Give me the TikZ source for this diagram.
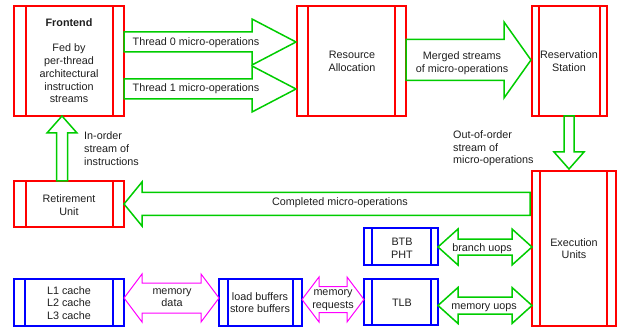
\documentclass[tikz,border=0pt]{standalone}
\usepackage{fontspec}
\setmainfont{Liberation Sans}
\definecolor{cred}{RGB}{255,0,0}
\definecolor{cgreen}{RGB}{0,204,0}
\definecolor{cblue}{RGB}{0,0,255}
\definecolor{cmag}{RGB}{255,0,255}
\definecolor{ctext}{RGB}{30,30,30}
\tikzset{
  redbox/.style={draw=cred,line width=2pt},
  bluebox/.style={draw=cblue,line width=2pt},
  garrow/.style={draw=cgreen,line width=1.5pt,line join=miter},
  marrow/.style={draw=cmag,line width=1pt,line join=miter},
  lbl/.style={text=ctext,font=\fontsize{10.8}{12.7}\selectfont,align=center,inner sep=0pt},
  lbll/.style={lbl,align=left,anchor=west},
}
% process box: style, x1,y1,x2,y2, inner x left, inner x right, name
\newcommand\procbox[8]{%
  \draw[#1] (#2,#3) rectangle (#4,#5);
  \draw[#1] (#6,#3) -- (#6,#5);
  \draw[#1] (#7,#3) -- (#7,#5);
  \coordinate (#8) at ({(#2+#4)/2},{(#3+#5)/2});
}
% right arrow: style, x1, x2, yc, shaft half, head half, head length
\newcommand\rarr[7]{%
  \draw[#1] (#2,{#4-#5}) -- ({#3-#7},{#4-#5}) -- ({#3-#7},{#4-#6}) -- (#3,#4)
    -- ({#3-#7},{#4+#6}) -- ({#3-#7},{#4+#5}) -- (#2,{#4+#5}) -- cycle;
}
% left arrow: style, tip x, tail x, yc, shaft half, head half, head length
\newcommand\larr[7]{%
  \draw[#1] (#3,{#4-#5}) -- ({#2+#7},{#4-#5}) -- ({#2+#7},{#4-#6}) -- (#2,#4)
    -- ({#2+#7},{#4+#6}) -- ({#2+#7},{#4+#5}) -- (#3,{#4+#5}) -- cycle;
}
% double arrow: style, x1, x2, yc, shaft half, head half, head length
\newcommand\darr[7]{%
  \draw[#1] (#2,#4) -- ({#2+#7},{#4-#6}) -- ({#2+#7},{#4-#5}) -- ({#3-#7},{#4-#5})
    -- ({#3-#7},{#4-#6}) -- (#3,#4) -- ({#3-#7},{#4+#6}) -- ({#3-#7},{#4+#5})
    -- ({#2+#7},{#4+#5}) -- ({#2+#7},{#4+#6}) -- cycle;
}
% vertical arrow: style, xc, tail y, tip y, shaft half, head half, head length (sign by direction)
\newcommand\varr[7]{%
  \draw[#1] ({#2-#5},#3) -- ({#2-#5},{#4-#7}) -- ({#2-#6},{#4-#7}) -- (#2,#4)
    -- ({#2+#6},{#4-#7}) -- ({#2+#5},{#4-#7}) -- ({#2+#5},#3) -- cycle;
}
\begin{document}
\begin{tikzpicture}[x=1pt,y=-1pt]
\useasboundingbox (0,0) rectangle (621,331);
% boxes
\procbox{redbox}{14}{6}{124}{116}{26}{113}{fe}
\procbox{redbox}{297}{6}{406}{116}{308}{395}{ra}
\procbox{redbox}{532}{6}{607}{116}{539}{600}{rs}
\procbox{redbox}{532}{171}{616}{326}{540}{607}{eu}
\procbox{redbox}{14}{181}{124}{227}{26}{113}{ru}
\procbox{bluebox}{14}{279}{124}{326}{25}{113}{l1}
\procbox{bluebox}{219}{279}{302}{326}{228}{293}{lb}
\procbox{bluebox}{364}{279}{438}{325}{372}{431}{tlb}
\procbox{bluebox}{364}{228}{438}{265}{372}{431}{btb}
% arrows
\rarr{garrow}{124}{296}{42}{10}{23}{44}
\rarr{garrow}{124}{296}{89}{10}{23}{44}
\rarr{garrow}{406}{531}{60}{20.5}{38}{27}
\varr{garrow}{62}{181}{116}{5.5}{15}{-17}
\varr{garrow}{569}{116}{169}{5}{15}{17}
\larr{garrow}{124}{530}{204}{11.5}{22}{18}
\darr{garrow}{438}{532}{247}{8}{18}{20}
\darr{garrow}{438}{532}{305.5}{8.5}{18}{20}
\darr{marrow}{124}{219}{298}{15}{24}{18}
\darr{marrow}{302}{364}{299.5}{13}{22.5}{17}
% labels
\node[lbl,font=\fontsize{10.8}{12.7}\selectfont\bfseries] (fet) at (69,23) {Frontend};
\node[lbl] (fed) at (69,73.5) {Fed by\\per-thread\\architectural\\instruction\\streams};
\node[lbl] (rat) at (352,61) {Resource\\Allocation};
\node[lbl] (rst) at (569,61) {Reservation\\Station};
\node[lbl] (eut) at (574,248.5) {Execution\\Units};
\node[lbl] (rut) at (69,205) {Retirement\\Unit};
\node[lbl] (l1t) at (69,303) {L1 cache\\L2 cache\\L3 cache};
\node[lbl] (lbt) at (260,302.5) {load buffers\\store buffers};
\node[lbl] (tlbt) at (402,303) {TLB};
\node[lbl] (btbt) at (402,248) {BTB\\PHT};
\node[lbl] (t0) at (196,43) {Thread 0 micro-operations};
\node[lbl] (t1) at (196,89) {Thread 1 micro-operations};
\node[lbl] (mg) at (462,63) {Merged streams\\of micro-operations};
\node[lbll] (io) at (84,148.5) {In-order\\stream of\\instructions};
\node[lbll] (oo) at (453,148.5) {Out-of-order\\stream of\\micro-operations};
\node[lbl] (cm) at (340,203) {Completed micro-operations};
\node[lbl] (bu) at (482,249) {branch uops};
\node[lbl] (mu) at (484,308) {memory uops};
\node[lbl] (md) at (172,297.5) {memory\\data};
\node[lbl] (mr) at (333,300.5) {memory\\requests};
\end{tikzpicture}
\end{document}
